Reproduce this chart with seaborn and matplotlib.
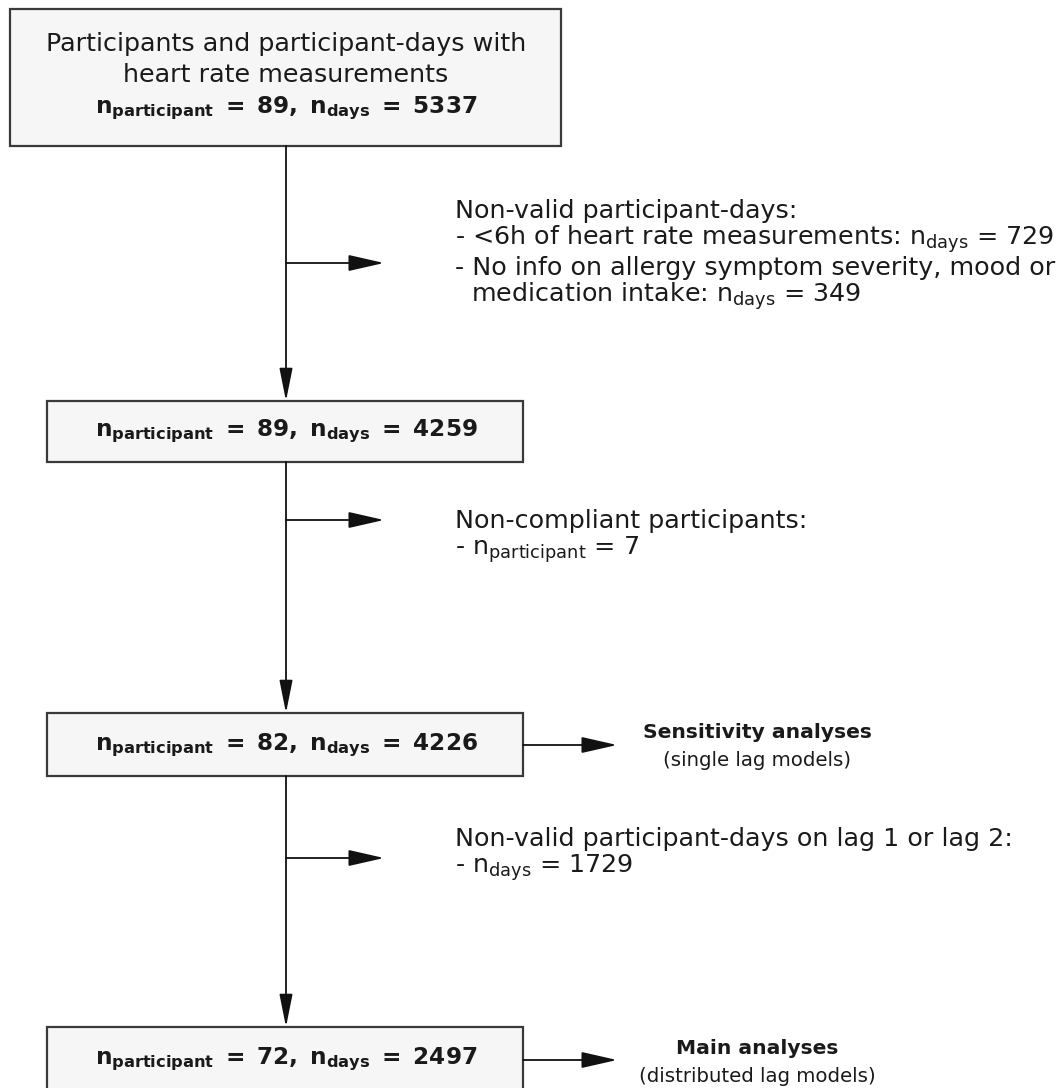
import matplotlib
matplotlib.use('Agg')
import matplotlib.pyplot as plt
import seaborn as sns
from matplotlib.patches import Rectangle, FancyArrowPatch

# numbers shown in the four boxes (top to bottom)
n_participant = [89, 89, 82, 72]
n_days = [5337, 4259, 4226, 2497]

first_box_title = ['Participants and participant-days with', 'heart rate measurements']

# exclusion notes between the boxes
excl_1 = ['Non-valid participant-days:',
          r'- <6h of heart rate measurements: $\mathregular{n_{days}}$ = 729',
          '- No info on allergy symptom severity, mood or',
          r'  medication intake: $\mathregular{n_{days}}$ = 349']
excl_2 = ['Non-compliant participants:',
          r'- $\mathregular{n_{participant}}$ = 7']
excl_3 = ['Non-valid participant-days on lag 1 or lag 2:',
          r'- $\mathregular{n_{days}}$ = 1729']

outcome_titles = ['Sensitivity analyses', 'Main analyses']
outcome_subs = ['(single lag models)', '(distributed lag models)']

sns.set_theme(style='white')
plt.rcParams['font.family'] = ['DejaVu Sans']
plt.rcParams['mathtext.fontset'] = 'dejavusans'

W, H = 1064, 1088
fig = plt.figure(figsize=(W / 100, H / 100), dpi=100)
ax = fig.add_axes([0, 0, 1, 1])
ax.set_xlim(0, W)
ax.set_ylim(H, 0)
ax.axis('off')

cx = 286
box_fill = '#f6f6f6'
box_edge = '#3a3a3a'
txt = '#1a1a1a'
fs = 18.3

# box geometry: (left, right, top, bottom)
boxes = [(10, 561, 9, 146), (47, 523, 401, 462), (47, 523, 713, 776), (47, 523, 1027, 1100)]

for (l, r, t, b) in boxes:
    ax.add_patch(Rectangle((l, t), r - l, b - t, facecolor=box_fill, edgecolor=box_edge, lw=1.6, zorder=2))


def bold_n(p, d):
    return r'$\mathbf{n_{participant}\ =\ %d,\ n_{days}\ =\ %d}$' % (p, d)


ax.text(cx, 44, first_box_title[0], ha='center', va='center', fontsize=fs, color=txt)
ax.text(cx, 75, first_box_title[1], ha='center', va='center', fontsize=fs, color=txt)
ax.text(cx, 108, bold_n(n_participant[0], n_days[0]), ha='center', va='center', fontsize=16.7, color=txt)
for i, yc in zip(range(1, 4), [431, 745, 1059]):
    ax.text(cx, yc, bold_n(n_participant[i], n_days[i]), ha='center', va='center', fontsize=16.7, color=txt)

# vertical arrows between boxes
for top, bot in [(146, 401), (462, 713), (776, 1027)]:
    ax.add_patch(FancyArrowPatch((cx, top), (cx, bot), arrowstyle='-|>,head_length=1.0,head_width=0.2',
                                 mutation_scale=20, lw=1.3, color='#111', shrinkA=0, shrinkB=0, zorder=3))

# side branches
for yb in [263, 520, 858]:
    ax.add_patch(FancyArrowPatch((cx, yb), (384, yb), arrowstyle='-|>,head_length=1.1,head_width=0.25',
                                 mutation_scale=20, lw=1.3, color='#111', shrinkA=0, shrinkB=0, zorder=3))

# arrows to the outcome labels
for yb in [745, 1060]:
    ax.add_patch(FancyArrowPatch((523, yb), (617, yb), arrowstyle='-|>,head_length=1.1,head_width=0.25',
                                 mutation_scale=20, lw=1.3, color='#111', shrinkA=0, shrinkB=0, zorder=3))

tx = 455
lh = 28.5
for lines, y0 in [(excl_1, 211), (excl_2, 521), (excl_3, 839)]:
    for k, s in enumerate(lines):
        ax.text(tx, y0 + k * lh, s, ha='left', va='center', fontsize=fs, color=txt)

for title, sub, yc in zip(outcome_titles, outcome_subs, [733, 1048]):
    ax.text(757, yc, title, ha='center', va='center', fontsize=14.6, fontweight='bold', color=txt)
    ax.text(757, yc + 28, sub, ha='center', va='center', fontsize=14.2, color=txt)

fig.savefig('out.png', dpi=100)
